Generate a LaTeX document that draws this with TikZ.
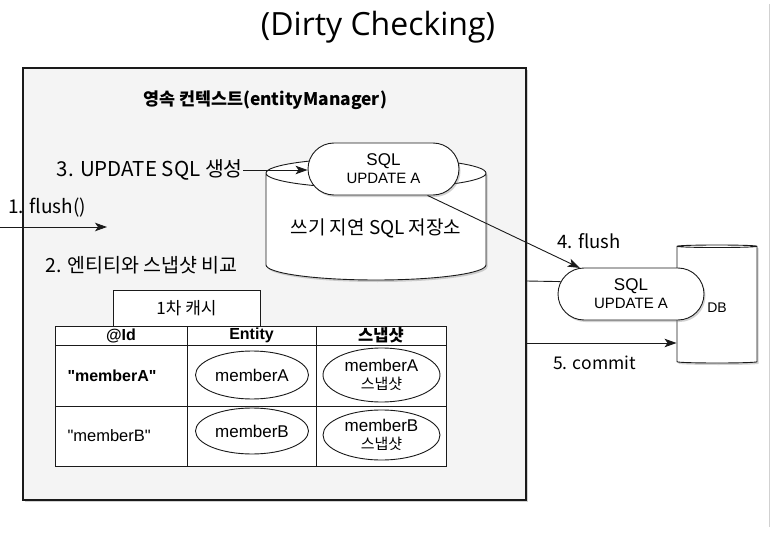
\documentclass[tikz,border=0pt]{standalone}
\usepackage{fontspec}
\setmainfont{Liberation Sans}[Ligatures=TeXOff]
\newfontfamily\kr{Noto Sans CJK KR}
\newfontfamily\titlefont{Open Sans}
\usepackage{tikz}
\usetikzlibrary{
    arrows.meta,
    positioning,
    shapes.geometric,
    shapes.misc,
    shadows,
    calc
}
\definecolor{ctxgray}{HTML}{F4F4F4}
\definecolor{linedark}{HTML}{1A1A1A}

\begin{document}
\begin{tikzpicture}[
    x=1pt, y=-1pt,
    shadowed/.style={
        drop shadow={opacity=0.35, shadow xshift=1.5pt, shadow yshift=-2pt}
    },
    context/.style={
        rectangle,
        draw=linedark,
        line width=1.2pt,
        fill=ctxgray,
        shadowed,
        minimum width=503pt,
        minimum height=432pt
    },
    store/.style={
        cylinder,
        shape border rotate=90,
        anchor=shape center,
        draw=linedark,
        line width=0.9pt,
        fill=white,
        shadowed,
        align=center
    },
    sqlbox/.style={
        rounded rectangle,
        draw=linedark,
        line width=0.9pt,
        fill=white,
        shadowed,
        align=center,
        inner sep=1pt,
        minimum width=153pt,
        minimum height=52pt,
        font=\fontsize{15}{18}\selectfont
    },
    cell/.style={
        rectangle,
        draw=linedark,
        line width=0.9pt,
        fill=white,
        inner sep=0pt,
        minimum width=130pt
    },
    obj/.style={
        ellipse,
        draw=linedark,
        line width=0.9pt,
        align=center,
        inner sep=0pt,
        font=\fontsize{17}{18}\selectfont
    },
    step label/.style={
        font=\kr\fontsize{19}{22}\selectfont,
        inner sep=0pt
    },
    arrow/.style={
        -{Stealth[length=12pt, width=8.5pt, inset=3pt]},
        line width=0.9pt,
        draw=linedark
    }
]
\useasboundingbox (0,0) rectangle (772,535);
\fill[white] (0,0) rectangle (772,535);
\draw[black!18, line width=0.8pt] (769,4) -- (769,527);

% title
\node[font=\titlefont\fontsize{32}{36}\selectfont] (title) at (378,27) {(Dirty Checking)};

% persistence context
\node[context] (ctx) at (274.5,284) {};
\node[font=\kr\bfseries\fontsize{17.4}{20}\selectfont] (ctxname) at (265,100) {영속 컨텍스트(entityManager)};

% write-behind store
\node[store, aspect=0.17, minimum width=220pt, minimum height=122pt,
      font=\kr\fontsize{19}{22}\selectfont] (buffer) at (376,219) {쓰기 지연 SQL 저장소};
\node[sqlbox] (sql1) at (383.5,169) {{\fontsize{17}{18}\selectfont SQL}\\UPDATE A};

% database
\node[store, aspect=0.38, minimum width=80pt, minimum height=118pt] (db) at (717,304) {};
\node[font=\fontsize{14}{16}\selectfont] (dbname) at (717,308) {DB};
\node[sqlbox, minimum width=148pt] (sql2) at (631,294) {{\fontsize{17}{18}\selectfont SQL}\\UPDATE A};

% steps
\node[step label, anchor=west] (flushcall) at (8,208) {1. flush()};
\coordinate (flushin) at (0,227);
\coordinate (flushend) at (107,227);
\node[step label, anchor=west, font=\kr\fontsize{19.5}{22}\selectfont] (compare) at (45,265) {2. 엔티티와 스냅샷 비교};
\node[step label, anchor=east, font=\kr\fontsize{20.5}{22}\selectfont] (create) at (243,170) {3. UPDATE SQL 생성};
\node[step label, anchor=west, font=\kr\fontsize{18.5}{22}\selectfont] (flushdb) at (557,241) {4. flush};
\node[step label, anchor=west, font=\kr\fontsize{17.5}{22}\selectfont] (commitlabel) at (553,363) {5. commit};
\coordinate (linkrow) at (0,281);
\coordinate (commitrow) at (0,343);

% first-level cache
\node[cell, minimum width=147pt, minimum height=36pt,
      font=\kr\fontsize{17}{18}\selectfont] (cache) at (186.5,308) {1차 캐시};
\node[cell, minimum width=132pt, minimum height=19pt, font=\bfseries\fontsize{16}{17}\selectfont] (hid) at (121,335.5) {@Id};
\node[cell, minimum width=129pt, minimum height=19pt, font=\bfseries\fontsize{16}{17}\selectfont] (hentity) at (251.5,335.5) {Entity};
\node[cell, minimum width=130pt, minimum height=19pt, font=\kr\bfseries\fontsize{16.5}{17}\selectfont] (hsnap) at (381,335.5) {스냅샷};
\node[cell, minimum width=132pt, minimum height=61pt] (ida) at (121,375.5) {};
\node[cell, minimum width=129pt, minimum height=61pt] (entitya) at (251.5,375.5) {};
\node[cell, minimum width=130pt, minimum height=61pt] (snapa) at (381,375.5) {};
\node[cell, minimum width=132pt, minimum height=60pt] (idb) at (121,436) {};
\node[cell, minimum width=129pt, minimum height=60pt] (entityb) at (251.5,436) {};
\node[cell, minimum width=130pt, minimum height=60pt] (snapb) at (381,436) {};

\node[anchor=west, font=\bfseries\fontsize{16}{17}\selectfont] (keya) at (64,376) {"memberA"};
\node[anchor=west, font=\fontsize{16.5}{17}\selectfont] (keyb) at (64,436) {"memberB"};
\node[obj, minimum width=113pt, minimum height=48pt] (objA) at (252,375) {memberA};
\node[obj, minimum width=117pt, minimum height=54pt] (snapA) at (381.5,375) {memberA\\{\kr\fontsize{15}{18}\selectfont 스냅샷}};
\node[obj, minimum width=113pt, minimum height=46pt] (objB) at (252,431) {memberB};
\node[obj, minimum width=117pt, minimum height=50pt] (snapB) at (381.5,435) {memberB\\{\kr\fontsize{15}{18}\selectfont 스냅샷}};

% connectors
\draw[arrow] (flushin) -- (flushend);
\draw[arrow] (create) -- (sql1.west |- create);
\draw[arrow] (sql1.-31) -- (sql2.153);
\draw[line width=0.9pt, draw=linedark] (ctx.east |- linkrow) -- (sql2.170);
\draw[arrow] (ctx.east |- commitrow) -- (db.west |- commitrow);

\end{tikzpicture}
\end{document}
